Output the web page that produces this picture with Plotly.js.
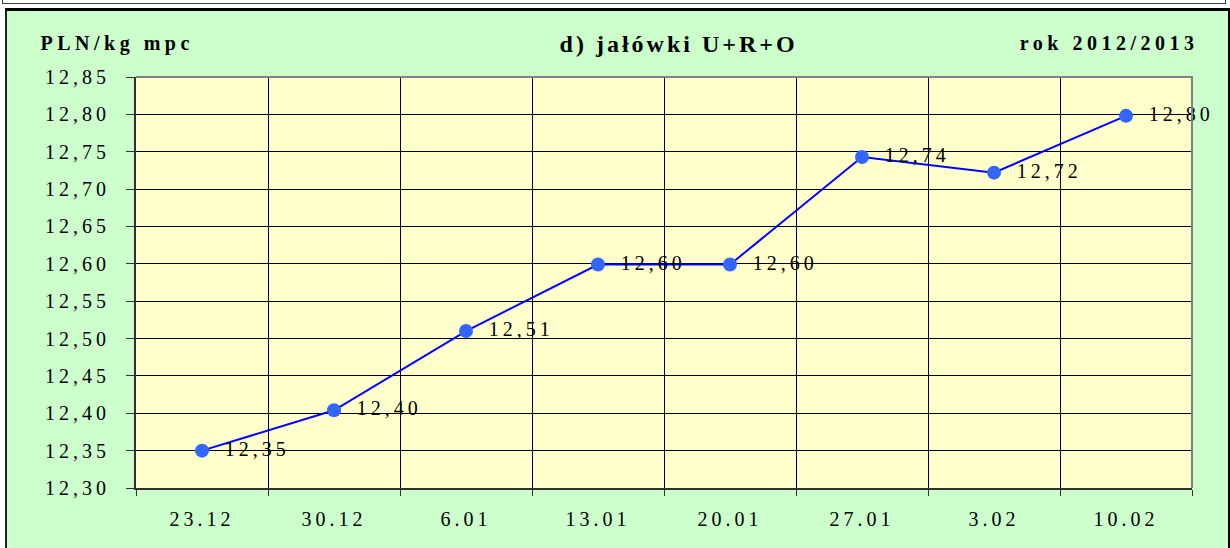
<!DOCTYPE html>
<html><head><meta charset="utf-8">
<script src="https://cdn.plot.ly/plotly-3.0.1.min.js"></script>
<style>
html,body{margin:0;padding:0;background:#fff;width:1230px;height:548px;overflow:hidden;}
#strip{position:absolute;left:2px;top:-2px;width:1222px;height:4px;border:1px solid #404040;background:#fff;}
#frame{position:absolute;left:5px;top:8px;width:1221px;height:545px;background:#CCFFCC;border-left:2px solid #202020;border-right:2px solid #000;border-top:3px solid #000;}
#chart{position:absolute;left:0;top:0;width:1230px;height:548px;}
#chart .ytick text, #chart .xtick text{letter-spacing:4px;}
#chart .textpoint text{letter-spacing:4px; transform: translateX(13px);}
#chart .annotation-text{letter-spacing:4.5px;}
#chart .gtitle{letter-spacing:3px;}
</style></head>
<body>
<div id="strip"></div>
<div id="frame"></div>
<div id="chart"></div>
<script>
const categories = ['23.12','30.12','6.01','13.01','20.01','27.01','3.02','10.02'];
const prices = [12.35, 12.404, 12.51, 12.599, 12.599, 12.743, 12.722, 12.798];
const priceLabels = prices.map(v => v.toFixed(2).replace('.', ','));
const chartTitle = 'd) jałówki U+R+O';
const unitLabel = 'PLN/kg mpc';
const periodLabel = 'rok 2012/2013';

const serif = 'Liberation Serif';

const trace = {
  type: 'scatter',
  mode: 'lines+markers+text',
  x: categories,
  y: prices,
  text: priceLabels,
  textposition: 'middle right',
  textfont: {family: serif, size: 20, color: '#000'},
  line: {color: '#0000FF', width: 2},
  marker: {color: '#3366FF', size: 14},
  hoverinfo: 'none',
  cliponaxis: false
};

const layout = {
  width: 1230, height: 548,
  margin: {l: 136, r: 38, t: 77, b: 60},
  paper_bgcolor: 'rgba(0,0,0,0)',
  plot_bgcolor: '#FFFFCC',
  separators: ', ',
  showlegend: false,
  font: {family: serif, color: '#000'},
  title: {
    text: '<b>' + chartTitle + '</b>',
    font: {family: serif, size: 24, color: '#000'},
    xref: 'container', yref: 'container',
    x: 0.5517, y: 0.92, xanchor: 'center', yanchor: 'middle'
  },
  xaxis: {
    type: 'category',
    range: [-0.5, 7.5],
    tickson: 'boundaries',
    ticks: 'outside', ticklen: 6, tickcolor: '#303030', tickwidth: 1,
    showgrid: true, gridcolor: '#000', gridwidth: 1,
    showline: true, linecolor: '#303030', linewidth: 2,
    tickfont: {family: serif, size: 20, color: '#000'},
    ticklabelstandoff: 12,
    fixedrange: true
  },
  yaxis: {
    range: [12.30, 12.85],
    dtick: 0.05, tick0: 12.30,
    tickformat: '.2f',
    ticks: 'outside', ticklen: 8, tickcolor: '#303030', tickwidth: 1,
    showgrid: true, gridcolor: '#000', gridwidth: 1,
    zeroline: false,
    showline: true, linecolor: '#303030', linewidth: 2,
    tickfont: {family: serif, size: 20, color: '#000'},
    ticklabelstandoff: 12,
    fixedrange: true
  },
  shapes: [{
    type: 'path', xref: 'paper', yref: 'paper',
    path: 'M0,1 L1,1 L1,0',
    line: {color: '#808080', width: 2},
    layer: 'above'
  }],
  annotations: [
    {text: '<b>' + unitLabel + '</b>', xref: 'paper', yref: 'paper', x: (117 - 136) / 1056, y: (488 - 43) / 411,
     xanchor: 'center', yanchor: 'middle', showarrow: false,
     font: {family: serif, size: 20, color: '#000'}},
    {text: '<b>' + periodLabel + '</b>', xref: 'paper', yref: 'paper', x: (1109 - 136) / 1056, y: (488 - 43) / 411,
     xanchor: 'center', yanchor: 'middle', showarrow: false,
     font: {family: serif, size: 20, color: '#000'}}
  ]
};

Plotly.newPlot('chart', [trace], layout, {displayModeBar: false, staticPlot: true});
</script>
</body></html>
